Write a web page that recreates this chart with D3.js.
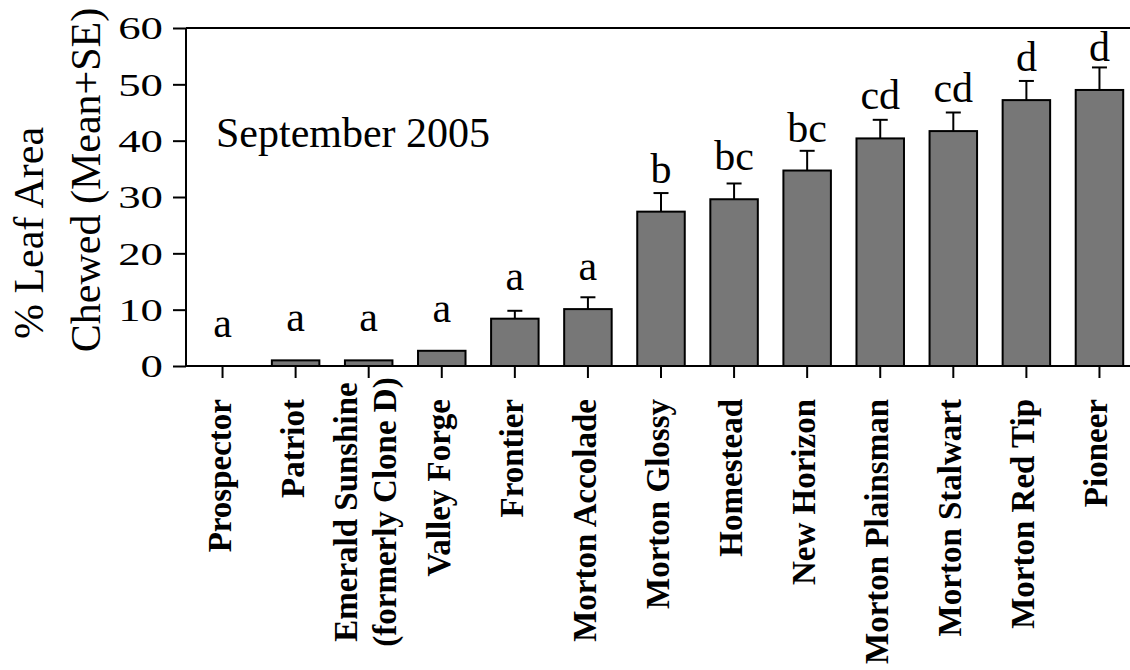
<!DOCTYPE html>
<html><head><meta charset="utf-8">
<script src="https://cdn.jsdelivr.net/npm/d3@7"></script>
<style>body{margin:0;background:#fff}svg{display:block}</style>
</head><body><svg id="chart" width="1130" height="670"></svg>
<script>
const categories = ["Prospector","Patriot","Emerald Sunshine\n(formerly Clone D)","Valley Forge","Frontier","Morton Accolade","Morton Glossy","Homestead","New Horizon","Morton Plainsman","Morton Stalwart","Morton Red Tip","Pioneer"];
const means = [0, 1.0, 1.0, 2.7, 8.4, 10.1, 27.4, 29.6, 34.7, 40.4, 41.7, 47.2, 49.0];
const ses = [0, 0, 0, 0, 1.4, 2.1, 3.3, 2.8, 3.5, 3.3, 3.3, 3.4, 4.0];
const groups = ["a","a","a","a","a","a","b","bc","bc","cd","cd","d","d"];
const yTicks = [0, 10, 20, 30, 40, 50, 60];
const yLabelLines = ["% Leaf Area", "Chewed (Mean+SE)"];
const panelTitle = "September 2005";

(function(){
const svg = d3.select("#chart");
svg.append("rect").attr("width",1130).attr("height",670).attr("fill","#fff");
const serif = "'Liberation Serif','Times New Roman',Times,serif";

const pL = 186, pR = 1136, pT = 28, pB = 366;
const x = d3.scaleBand().domain(categories).range([pL, pR]).paddingInner(0.35).paddingOuter(0.175);
const y = d3.scaleLinear().domain([0, 60]).range([pB, pT]);

// top frame line
svg.append("line").attr("x1", pL).attr("x2", 1130).attr("y1", y(60)).attr("y2", y(60))
  .attr("stroke","#000").attr("stroke-width",2);

const data = categories.map((c,i)=>({c, m: means[i], se: ses[i], g: groups[i]}));
svg.append("g").selectAll("rect").data(data.filter(d=>d.m>0)).join("rect")
  .attr("x", d=>x(d.c)).attr("width", x.bandwidth())
  .attr("y", d=>y(d.m)).attr("height", d=>y(0)-y(d.m))
  .attr("fill","#777777").attr("stroke","#000").attr("stroke-width",2);

const eb = svg.append("g").attr("stroke","#000").attr("stroke-width",2);
data.filter(d=>d.se>0).forEach(d=>{
  const cx = x(d.c) + x.bandwidth()/2;
  eb.append("line").attr("x1",cx).attr("x2",cx).attr("y1",y(d.m)).attr("y2",y(d.m+d.se));
  eb.append("line").attr("x1",cx-7.5).attr("x2",cx+7.5).attr("y1",y(d.m+d.se)).attr("y2",y(d.m+d.se));
});

svg.append("g").selectAll("text").data(data).join("text")
  .attr("x", d=>x(d.c)+x.bandwidth()/2).attr("y", d=>y(d.m)-29)
  .attr("text-anchor","middle").attr("font-family",serif).attr("font-size",42)
  .text(d=>d.g);

const yAxis = svg.append("g").attr("transform",`translate(${pL},0)`)
  .call(d3.axisLeft(y).tickValues(yTicks).tickSize(13).tickSizeOuter(0));
yAxis.select(".domain").attr("stroke-width",2).attr("d", `M0,${y(60)}V${y(0)}`);
yAxis.selectAll(".tick line").attr("stroke-width",2);
yAxis.selectAll(".tick text").attr("font-family",serif).attr("font-size",32).attr("fill","#000")
  .attr("x", -23/1.4).attr("dy","0.34em").attr("text-anchor","end")
  .attr("transform","scale(1.4,1)");

const xAxis = svg.append("g").attr("transform",`translate(0,${pB})`)
  .call(d3.axisBottom(x).tickSize(12).tickSizeOuter(0));
xAxis.select(".domain").attr("stroke-width",2).attr("d", `M${pL},0H1130`);
xAxis.selectAll(".tick line").attr("stroke-width",2);
xAxis.selectAll(".tick text").remove();
xAxis.selectAll(".tick").each(function(c){
  const lines = c.split("\n");
  const g = d3.select(this);
  const n = lines.length;
  lines.forEach((ln,i)=>{
    const off = 8 + (i-(n-1)/2)*39;
    const t = g.append("text").attr("font-family",serif).attr("font-weight","bold")
      .attr("font-size",33).attr("fill","#000").text(ln);
    if(n===1){
      t.attr("text-anchor","end").attr("transform",`translate(${off},33) rotate(-90)`);
    } else {
      t.attr("text-anchor","middle").attr("transform",`translate(${off},146) rotate(-90)`);
    }
  });
});

const yLabelPos = [[43,233],[100,180]];
yLabelLines.forEach((ln,i)=>{
  svg.append("text").attr("font-family",serif).attr("font-size",42).attr("text-anchor","middle")
    .attr("transform",`translate(${yLabelPos[i][0]},${yLabelPos[i][1]}) rotate(-90)`).text(ln);
});

svg.append("text").attr("x",216).attr("y",147).attr("font-family",serif).attr("font-size",42).text(panelTitle);
})();
</script></body></html>
